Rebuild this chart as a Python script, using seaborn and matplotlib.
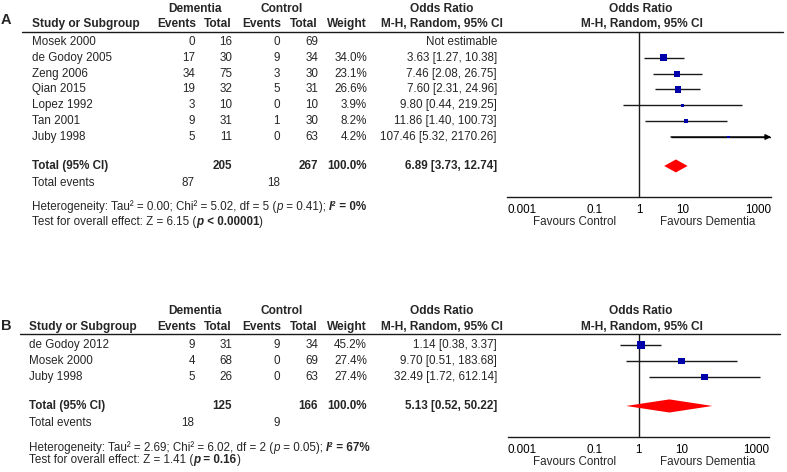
import numpy as np
import pandas as pd
import matplotlib
matplotlib.use("Agg")
import matplotlib.pyplot as plt
import seaborn as sns
from matplotlib.transforms import blended_transform_factory
from matplotlib.lines import Line2D
from matplotlib.ticker import NullLocator

sns.set_style("white")
plt.rcParams["font.family"] = ["Liberation Sans", "DejaVu Sans"]

W, H = 787, 472

# ---------------- data: panel A ----------------
a_studies = ["Mosek 2000", "de Godoy 2005", "Zeng 2006", "Qian 2015",
             "Lopez 1992", "Tan 2001", "Juby 1998"]
a_dem_events = [0, 17, 34, 19, 3, 9, 5]
a_dem_total = [16, 30, 75, 32, 10, 31, 11]
a_ctl_events = [0, 9, 3, 5, 0, 1, 0]
a_ctl_total = [69, 34, 30, 31, 10, 30, 63]
a_weight = [np.nan, 34.0, 23.1, 26.6, 3.9, 8.2, 4.2]
a_or = [np.nan, 3.63, 7.46, 7.60, 9.80, 11.86, 107.46]
a_lo = [np.nan, 1.27, 2.08, 2.31, 0.44, 1.40, 5.32]
a_hi = [np.nan, 10.38, 26.75, 24.96, 219.25, 100.73, 2170.26]
a_tot_n = [205, 267]
a_tot_events = [87, 18]
a_tot_or = [6.89, 3.73, 12.74]
a_het = ["0.00", "5.02", "5", "0.41", "0%"]
a_test = ["6.15", "< 0.00001"]

# ---------------- data: panel B ----------------
b_studies = ["de Godoy 2012", "Mosek 2000", "Juby 1998"]
b_dem_events = [9, 4, 5]
b_dem_total = [31, 68, 26]
b_ctl_events = [9, 0, 0]
b_ctl_total = [34, 69, 63]
b_weight = [45.2, 27.4, 27.4]
b_or = [1.14, 9.70, 32.49]
b_lo = [0.38, 0.51, 1.72]
b_hi = [3.37, 183.68, 612.14]
b_tot_n = [125, 166]
b_tot_events = [18, 9]
b_tot_or = [5.13, 0.52, 50.22]
b_het = ["2.69", "6.02", "2", "0.05", "67%"]
b_test = ["1.41", "= 0.16"]

axis_ticks = [0.001, 0.1, 1, 10, 1000]
axis_ticklabels = ["0.001", "0.1", "1", "10", "1000"]

FS = 8.4
FSH = 8.6
SQ = "#0000AA"
LINE = "#1a1a1a"

fig = plt.figure(figsize=(W / 100, H / 100), dpi=100)
renderer = fig.canvas.get_renderer()


def fx(x):
    return x / W


def fy(y):
    return 1 - y / H


def ptext(x, y, s, ha="left", weight="normal", size=FS, **kw):
    return fig.text(fx(x), fy(y), s, ha=ha, va="center", fontsize=size,
                    fontweight=weight, **kw)


def seg_width(s, **kw):
    t1 = fig.text(0, 0, s + "|", fontsize=FS, **kw)
    t2 = fig.text(0, 0, "|", fontsize=FS, **kw)
    w = t1.get_window_extent(renderer).width - t2.get_window_extent(renderer).width
    t1.remove()
    t2.remove()
    return w


def rich(x, y, segs):
    cur = x
    for s, kw in segs:
        fig.text(fx(cur), fy(y), s, ha="left", va="center", fontsize=FS, **kw)
        cur += seg_width(s, **kw)


NORM = {}
IT = {"fontstyle": "italic"}
BD = {"fontweight": "bold"}
BI = {"fontweight": "bold", "fontstyle": "italic"}


def panel(label, geo, studies, de, dt, ce, ct, wt, orv, lo, hi,
          tot_n, tot_ev, tot_or, het, test):
    (left, right, top, bottom, row0, step, xstudy, hy1, hy2,
     line_x0, line_x1, tot_row, ev_row, het_y, test_y, fav_y, lab_y) = geo
    n = len(studies)
    rows = np.arange(n, dtype=float)
    ax = fig.add_axes([fx(left), fy(bottom), (right - left) / W, (bottom - top) / H])
    ymin = (top - row0) / step
    ymax = (bottom - row0) / step

    df = pd.DataFrame({"study": studies, "row": rows, "or": orv, "lo": lo,
                       "hi": hi, "weight": wt})
    est = df.dropna()
    hi_c = np.minimum(est["hi"].values, axis_ticks[-1])
    ax.hlines(est["row"], est["lo"], hi_c, color=LINE, lw=1.0, zorder=2)
    for _, r in est[est["hi"] > axis_ticks[-1]].iterrows():
        ax.annotate("", xy=(axis_ticks[-1], r["row"]), xytext=(r["lo"], r["row"]),
                    arrowprops=dict(arrowstyle="-|>", color="black", lw=1.0,
                                    mutation_scale=8, shrinkA=0, shrinkB=0),
                    annotation_clip=False, zorder=2)
    sns.scatterplot(data=est, x="or", y="row", size="weight", sizes=(0, 40),
                    size_norm=(0, 50), marker="s", color=SQ, linewidth=0,
                    legend=False, ax=ax, zorder=3)
    # diamond
    t_or, t_lo, t_hi = tot_or
    h = 0.41
    ax.fill([t_lo, t_or, t_hi, t_or], [tot_row, tot_row - h, tot_row, tot_row + h],
            color="#FF0000", lw=0, zorder=3)
    ax.axvline(1, color=LINE, lw=1.0, zorder=1)

    ax.set_xscale("log")
    ax.set_xlim(axis_ticks[0], axis_ticks[-1])
    ax.set_ylim(ymax, ymin)
    ax.set_xticks(axis_ticks)
    ax.set_xticklabels(axis_ticklabels)
    ax.xaxis.set_minor_locator(NullLocator())
    ax.set_yticks([])
    ax.set_xlabel("")
    ax.set_ylabel("")
    for s in ["top", "left", "right"]:
        ax.spines[s].set_visible(False)
    ax.spines["bottom"].set_color(LINE)
    ax.spines["bottom"].set_linewidth(1.0)
    ax.tick_params(axis="x", direction="inout", length=7, width=1.0, colors=LINE,
                   labelsize=FS, labelcolor="black", pad=1.5)
    labs = ax.get_xticklabels()
    labs[0].set_ha("left")
    labs[-1].set_ha("right")
    ax.patch.set_alpha(0)

    tr = blended_transform_factory(fig.transFigure, ax.transData)

    def rtext(x, r, s, ha="right", weight="normal"):
        fig.text(fx(x), r, s, transform=tr, ha=ha, va="center", fontsize=FS,
                 fontweight=weight)

    # header
    ptext(6, lab_y, label, ha="center", weight="bold", size=10.5)
    ptext(195, hy1, "Dementia", ha="center", weight="bold", size=FSH)
    ptext(282, hy1, "Control", ha="center", weight="bold", size=FSH)
    ptext(442, hy1, "Odds Ratio", ha="center", weight="bold", size=FSH)
    ptext(641, hy1, "Odds Ratio", ha="center", weight="bold", size=FSH)
    ptext(xstudy, hy2, "Study or Subgroup", weight="bold", size=FSH)
    ptext(196, hy2, "Events", ha="right", weight="bold", size=FSH)
    ptext(232, hy2, "Total", ha="right", weight="bold", size=FSH)
    ptext(281, hy2, "Events", ha="right", weight="bold", size=FSH)
    ptext(318, hy2, "Total", ha="right", weight="bold", size=FSH)
    ptext(367, hy2, "Weight", ha="right", weight="bold", size=FSH)
    ptext(442, hy2, "M-H, Random, 95% CI", ha="center", weight="bold", size=FSH)
    ptext(642, hy2, "M-H, Random, 95% CI", ha="center", weight="bold", size=FSH)
    fig.add_artist(Line2D([fx(line_x0), fx(line_x1)], [fy(top), fy(top)],
                          color=LINE, lw=1.0))

    # rows
    for i in range(n):
        rtext(xstudy, rows[i], studies[i], ha="left")
        rtext(195, rows[i], str(de[i]))
        rtext(232, rows[i], str(dt[i]))
        rtext(280, rows[i], str(ce[i]))
        rtext(318, rows[i], str(ct[i]))
        if np.isnan(orv[i]):
            rtext(497, rows[i], "Not estimable")
        else:
            rtext(367, rows[i], f"{wt[i]:.1f}%")
            rtext(497, rows[i], f"{orv[i]:.2f} [{lo[i]:.2f}, {hi[i]:.2f}]")
    rtext(xstudy, tot_row, "Total (95% CI)", ha="left", weight="bold")
    rtext(232, tot_row, str(tot_n[0]), weight="bold")
    rtext(318, tot_row, str(tot_n[1]), weight="bold")
    rtext(367, tot_row, f"{np.nansum(wt):.1f}%", weight="bold")
    rtext(497, tot_row, f"{t_or:.2f} [{t_lo:.2f}, {t_hi:.2f}]", weight="bold")
    rtext(xstudy, ev_row, "Total events", ha="left")
    rtext(194, ev_row, str(tot_ev[0]))
    rtext(280, ev_row, str(tot_ev[1]))

    # footnotes
    rich(xstudy, het_y, [
        (f"Heterogeneity: Tau\u00b2 = {het[0]}; Chi\u00b2 = {het[1]}, df = {het[2]} (", NORM),
        ("p", IT), (f" = {het[3]}); ", NORM), ("I\u00b2", BI), (f" = {het[4]}", BD)])
    rich(xstudy, test_y, [
        (f"Test for overall effect: Z = {test[0]} (", NORM),
        ("p", BI), (f" {test[1]}", BD), (")", NORM)])

    ptext(575, fav_y, "Favours Control", ha="center")
    ptext(708, fav_y, "Favours Dementia", ha="center")
    return ax


#          left  right top  bottom row0 step  xstudy hy1 hy2 lx0 lx1  tot  ev   het  test fav lab
geo_a = (507, 771, 32, 197, 42, 15.83, 32, 9, 24, 22, 783, 7.83, 8.9, 207, 222, 222, 20)
geo_b = (508, 769, 334, 437, 345, 16.0, 29, 311, 327, 20, 780, 3.81, 4.88, 448, 460, 462, 326)

panel("A", geo_a, a_studies, a_dem_events, a_dem_total, a_ctl_events, a_ctl_total,
      a_weight, a_or, a_lo, a_hi, a_tot_n, a_tot_events, a_tot_or, a_het, a_test)
panel("B", geo_b, b_studies, b_dem_events, b_dem_total, b_ctl_events, b_ctl_total,
      b_weight, b_or, b_lo, b_hi, b_tot_n, b_tot_events, b_tot_or, b_het, b_test)

fig.savefig("out.png", dpi=100, facecolor="white")
